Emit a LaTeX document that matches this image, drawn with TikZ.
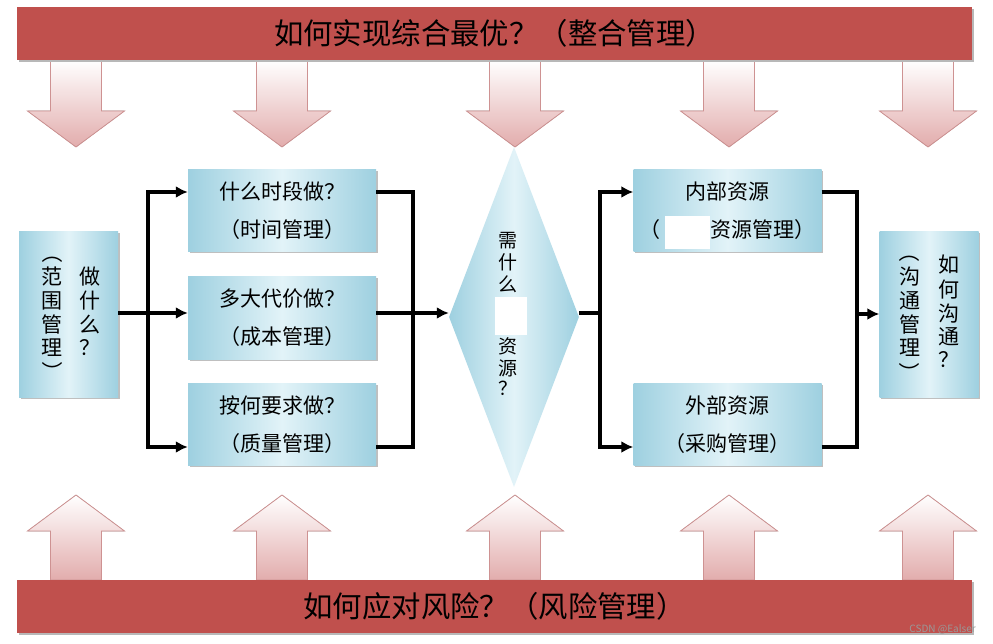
\documentclass[tikz,border=0pt]{standalone}
\usepackage{fontspec}
\usepackage{graphicx}
\setmainfont{Noto Sans CJK SC}
\usetikzlibrary{arrows.meta,positioning,calc,shapes.geometric,shadows}
\definecolor{bannerred}{RGB}{192,80,77}
\definecolor{arrowpink}{RGB}{226,172,172}
\definecolor{arrowedge}{RGB}{206,146,146}
\definecolor{boxblue}{RGB}{158,208,224}
\definecolor{boxlight}{RGB}{226,243,248}
\newcommand\vcol[1]{\begin{tabular}{@{}c@{}}#1\end{tabular}}
\newcommand\vopen{\rotatebox[origin=c]{-90}{（}}
\newcommand\vclose{\rotatebox[origin=c]{-90}{）}}

\begin{document}
\begin{tikzpicture}[x=1pt,y=-1pt,>={Latex[length=12pt,width=12pt]}]
\tikzset{
  banner/.style={rectangle,fill=bannerred,minimum width=955pt,minimum height=53pt,inner sep=0pt,
    font=\fontsize{29.4}{32}\selectfont,drop shadow={shadow xshift=1.5pt,shadow yshift=-2pt,fill=black!28,opacity=1}},
  task/.style={rectangle,left color=boxblue,right color=boxblue,middle color=boxlight,
    minimum width=188pt,minimum height=82pt,inner sep=0pt,align=center,font=\fontsize{21}{38}\selectfont,
    drop shadow={shadow xshift=1.5pt,shadow yshift=-1.5pt,fill=black!25,opacity=1}},
  sidebox/.style={task,minimum width=99pt,minimum height=165pt,font=\fontsize{21}{21.7}\selectfont},
  needbox/.style={diamond,shape aspect=0.38,left color=boxblue,right color=boxblue,middle color=boxlight,
    minimum width=130pt,minimum height=340pt,inner sep=0pt,align=center,font=\fontsize{19}{20}\selectfont},
  fatarrow/.style={top color=white,bottom color=arrowpink,draw=arrowedge,line width=0.8pt},
  wire/.style={line width=3.6pt},
  wmark/.style={text=black!40,font=\fontsize{10}{12}\selectfont,inner sep=0pt}
}
\fill[white] (0,0) rectangle (993,644);
\useasboundingbox (0,0) rectangle (993,644);

% fat arrows
\foreach \cx in {76,282,515,729,928}{
  \filldraw[fatarrow] (\cx-25.5,60) -- (\cx-25.5,111) -- (\cx-48.5,111) -- (\cx,147)
    -- (\cx+48.5,111) -- (\cx+25.5,111) -- (\cx+25.5,60) -- cycle;
  \filldraw[fatarrow] (\cx-25.5,580) -- (\cx-25.5,531) -- (\cx-48.5,531) -- (\cx,495)
    -- (\cx+48.5,531) -- (\cx+25.5,531) -- (\cx+25.5,580) -- cycle;
}

\node[banner] (integ) at (494.5,33.5) {如何实现综合最优？（整合管理）};
\node[banner] (risk) at (494.5,606.5) {如何应对风险？（风险管理）};

\node[sidebox] (scope) at (68.5,314.5) {\hspace*{5pt}\vcol{\vopen\\范\\围\\管\\理\\\vclose}\hspace{17pt}\vcol{做\\什\\么\\？}};
\node[task] (time) at (282,211) {什么时段做？\\（时间管理）};
\node[task] (cost) at (282,318) {多大代价做？\\（成本管理）};
\node[task] (quality) at (282,424.5) {按何要求做？\\（质量管理）};
\node[needbox] (need) at (514,317) {\hspace*{-12pt}\vcol{需\\什\\么\\[40pt]资\\源\\？}};
\node[task] (inner) at (727.5,210.5) {内部资源\\（\hspace{2.4em}资源管理）};
\node[task] (outer) at (727.5,424.5) {外部资源\\（采购管理）};
\node[sidebox] (comm) at (929,314.5) {\vcol{\vopen\\沟\\通\\管\\理\\\vclose}\hspace{18pt}\vcol{如\\何\\沟\\通\\？}};

% blanked patches
\fill[white] (495,297) rectangle (527,335);
\fill[white] (665,216) rectangle (710,249);

\coordinate (jl) at (148,313);
\coordinate (jr) at (413,313);
\coordinate (jd) at (600,313);
\coordinate (jc) at (857,314);

\draw[wire] (scope.east |- jl) -- (jl);
\draw[wire,->] (jl) |- ([yshift=19pt]time.west);
\draw[wire,->] (jl) -- (jl -| cost.west);
\draw[wire,->] (jl) |- ([yshift=-22.5pt]quality.west);
\draw[wire] ([yshift=19pt]time.east) -| (jr);
\draw[wire] ([yshift=-22.5pt]quality.east) -| (jr);
\draw[wire,->] (jl -| cost.east) -- (need.west |- jl);
\draw[wire] (need.east |- jd) -- (jd);
\draw[wire,->] (jd) |- ([yshift=18.5pt]inner.west);
\draw[wire,->] (jd) |- ([yshift=-22.5pt]outer.west);
\draw[wire] ([yshift=18.5pt]inner.east) -| (jc);
\draw[wire] ([yshift=-22.5pt]outer.east) -| (jc);
\draw[wire,->] (jc) -- (jc -| comm.west);

\node[wmark,anchor=east] (csdn) at (976,629) {CSDN @Ealser};
\end{tikzpicture}
\end{document}
